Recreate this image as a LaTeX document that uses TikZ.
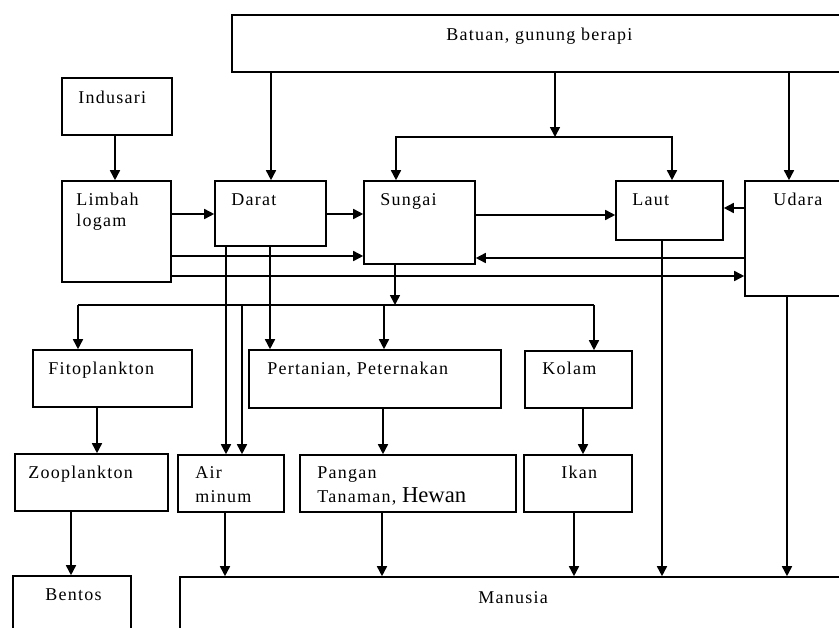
\documentclass[tikz,border=0pt]{standalone}
\usepackage{fontspec}
\setmainfont{Liberation Serif}[LetterSpace=7]
\newfontfamily\plainserif{Liberation Serif}
\usetikzlibrary{arrows.meta,fit}
\tikzset{
  box/.style={draw, line width=1.2pt, inner sep=0pt, fit={#1}},
  lbl/.style={anchor=base west, inner sep=0pt, font=\fontsize{13.5}{16}\selectfont},
  ln/.style={line width=1.2pt},
  arr/.style={line width=1.2pt, -{Triangle[length=7.5pt,width=7.5pt]}}
}
\begin{document}
\begin{tikzpicture}[x=0.75pt,y=-0.75pt]
\useasboundingbox (0,0) rectangle (839,628);
\clip (0,0) rectangle (839,628);
\fill[white] (0,0) rectangle (839,628);
% boxes
\node[box={(232,15)(860,72)}] (batuan) {};
\node[box={(62,78)(172,135)}] (indusari) {};
\node[box={(62,181)(171,282)}] (limbah) {};
\node[box={(215,181)(326,246)}] (darat) {};
\node[box={(364,181)(475,264)}] (sungai) {};
\node[box={(616,181)(723,240)}] (laut) {};
\node[box={(745,181)(860,296)}] (udara) {};
\node[box={(33,350)(192,407)}] (fito) {};
\node[box={(249,350)(501,408)}] (pert) {};
\node[box={(525,351)(632,408)}] (kolam) {};
\node[box={(15,454)(168,511)}] (zoo) {};
\node[box={(178,455)(284,512)}] (air) {};
\node[box={(300,455)(516,512)}] (pangan) {};
\node[box={(524,455)(632,512)}] (ikan) {};
\node[box={(13,576)(131,650)}] (bentos) {};
\node[box={(180,577)(860,650)}] (manusia) {};
% labels
\node[lbl] (tbatuan) at (446,40) {Batuan, gunung berapi};
\node[lbl] (tindusari) at (78,103) {Indusari};
\node[lbl] (tlimbah1) at (76,205) {Limbah};
\node[lbl] (tlimbah2) at (76,226) {logam};
\node[lbl] (tdarat) at (231,205) {Darat};
\node[lbl] (tsungai) at (380,205) {Sungai};
\node[lbl] (tlaut) at (632,205) {Laut};
\node[lbl] (tudara) at (773,205) {Udara};
\node[lbl] (tfito) at (48,374) {Fitoplankton};
\node[lbl] (tpert) at (267,374) {Pertanian, Peternakan};
\node[lbl] (tkolam) at (542,374) {Kolam};
\node[lbl] (tzoo) at (28,478) {Zooplankton};
\node[lbl] (tair1) at (195,478) {Air};
\node[lbl] (tair2) at (195,502) {minum};
\node[lbl] (tpangan1) at (317,478) {Pangan};
\node[lbl] (tpangan2) at (317,502) {Tanaman, {\plainserif\fontsize{17}{20}\selectfont Hewan}};
\node[lbl] (tikan) at (561,478) {Ikan};
\node[lbl] (tbentos) at (45,600) {Bentos};
\node[lbl] (tmanusia) at (478,603) {Manusia};
% column / row helpers
\foreach \x in {71,78,97,115,225,226,242,270,271,382,383,384,396,574,583,594,662,672,787,789}
  {\coordinate (x\x) at (\x,0);}
\foreach \y in {208,214,215,256,258,276}
  {\coordinate (y\y) at (0,\y);}
\coordinate (sp1) at (555,137);
\coordinate (sp2) at (395,305);
% connectors
\draw[arr] (x115 |- indusari.south) -- (x115 |- limbah.north);
\draw[arr] (x271 |- batuan.south) -- (x271 |- darat.north);
\draw[arr] (sp1 |- batuan.south) -- (sp1);
\draw[arr] (sp1) -| (x396 |- sungai.north);
\draw[arr] (sp1) -| (x672 |- laut.north);
\draw[arr] (x789 |- batuan.south) -- (x789 |- udara.north);
\draw[arr] (limbah.east |- y214) -- (darat.west |- y214);
\draw[arr] (darat.east |- y214) -- (sungai.west |- y214);
\draw[arr] (limbah.east |- y256) -- (sungai.west |- y256);
\draw[arr] (limbah.east |- y276) -- (udara.west |- y276);
\draw[arr] (udara.west |- y258) -- (sungai.east |- y258);
\draw[arr] (sungai.east |- y215) -- (laut.west |- y215);
\draw[arr] (udara.west |- y208) -- (laut.east |- y208);
\draw[arr] (sp2 |- sungai.south) -- (sp2);
\draw[ln] (x78 |- sp2) -- (x594 |- sp2);
\draw[arr] (x78 |- sp2) -- (x78 |- fito.north);
\draw[arr] (x384 |- sp2) -- (x384 |- pert.north);
\draw[arr] (x594 |- sp2) -- (x594 |- kolam.north);
\draw[arr] (x242 |- sp2) -- (x242 |- air.north);
\draw[arr] (x226 |- darat.south) -- (x226 |- air.north);
\draw[arr] (x270 |- darat.south) -- (x270 |- pert.north);
\draw[arr] (x97 |- fito.south) -- (x97 |- zoo.north);
\draw[arr] (x383 |- pert.south) -- (x383 |- pangan.north);
\draw[arr] (x583 |- kolam.south) -- (x583 |- ikan.north);
\draw[arr] (x71 |- zoo.south) -- (x71 |- bentos.north);
\draw[arr] (x225 |- air.south) -- (x225 |- manusia.north);
\draw[arr] (x382 |- pangan.south) -- (x382 |- manusia.north);
\draw[arr] (x574 |- ikan.south) -- (x574 |- manusia.north);
\draw[arr] (x662 |- laut.south) -- (x662 |- manusia.north);
\draw[arr] (x787 |- udara.south) -- (x787 |- manusia.north);
\end{tikzpicture}
\end{document}
